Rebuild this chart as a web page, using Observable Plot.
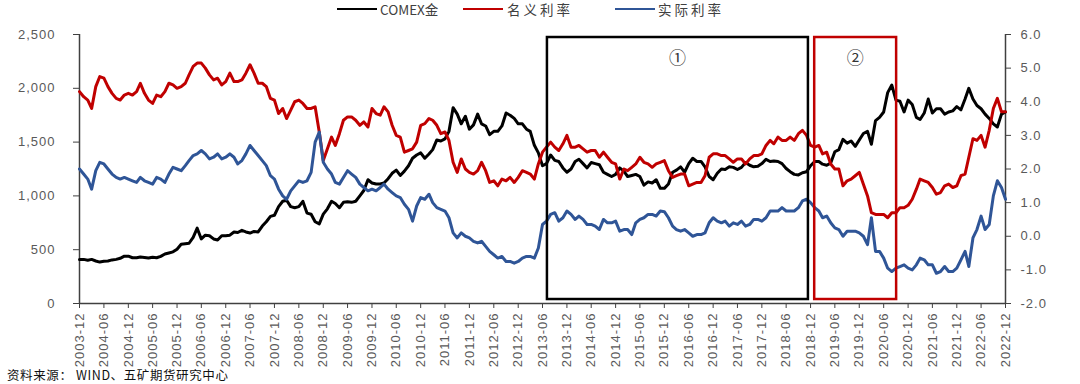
<!DOCTYPE html>
<html>
<head>
<meta charset="utf-8">
<script src="https://cdn.jsdelivr.net/npm/d3@7"></script>
<script src="https://cdn.jsdelivr.net/npm/@observablehq/plot@0.6"></script>
<style>
  body { margin: 0; background: #fff; }
  #wrap { position: relative; width: 1080px; height: 384px; overflow: hidden; background: #fff;
          font-family: "Noto Sans CJK SC", "Noto Sans", sans-serif; }
  #legend { position: relative; height: 20px; }
  #legend .ln { position: absolute; top: 8px; height: 2px; width: 40px; }
  #legend .tx { position: absolute; top: 0px; line-height: 18px; font-size: 13.5px; color: #404040; }
  #chart svg text { letter-spacing: 1px; }
  #caption { position: absolute; left: 7px; top: 366px; font-size: 12.5px; line-height: 18px;
             color: #111; letter-spacing: 0.6px; }
</style>
</head>
<body>
<div id="wrap">
  <div id="legend"></div>
  <div id="chart"></div>
  <div id="caption">资料来源： WIND、五矿期货研究中心</div>
</div>
<script>
// ---------------- data (monthly, from 2003-12 to 2022-12) ----------------
const startMonth = "2003-12";

// COMEX gold, USD/oz (left axis)
const gold = [
  410,
  410, 402, 410, 395, 385, 392, 395, 405, 410, 420, 440, 440,            // 2004
  425, 425, 432, 428, 422, 430, 425, 438, 460, 470, 480, 505,            // 2005
  550, 555, 560, 615, 700, 600, 635, 630, 600, 590, 630, 630,            // 2006
  635, 665, 660, 680, 665, 655, 670, 665, 720, 760, 810, 820,            // 2007
  900, 950, 960, 900, 890, 900, 950, 840, 830, 760, 740, 830,            // 2008
  880, 950, 930, 890, 940, 945, 940, 950, 1000, 1050, 1150, 1120,        // 2009
  1110, 1110, 1120, 1160, 1210, 1240, 1190, 1230, 1280, 1350, 1380, 1400, // 2010
  1350, 1390, 1430, 1520, 1510, 1530, 1600, 1820, 1760, 1670, 1740, 1620, // 2011
  1660, 1760, 1670, 1650, 1570, 1600, 1600, 1650, 1770, 1750, 1720, 1670, // 2012
  1670, 1620, 1600, 1470, 1400, 1280, 1300, 1380, 1330, 1320, 1260, 1220, // 2013
  1250, 1320, 1340, 1300, 1260, 1310, 1300, 1290, 1220, 1200, 1180, 1200, // 2014
  1260, 1230, 1180, 1190, 1200, 1180, 1100, 1130, 1120, 1150, 1070, 1070, // 2015
  1110, 1220, 1240, 1270, 1220, 1300, 1350, 1320, 1320, 1270, 1180, 1150, // 2016
  1210, 1250, 1245, 1270, 1265, 1245, 1265, 1310, 1285, 1270, 1275, 1300, // 2017
  1340, 1320, 1325, 1320, 1300, 1255, 1225, 1200, 1195, 1215, 1225, 1280, // 2018
  1320, 1320, 1295, 1285, 1305, 1410, 1430, 1525, 1490, 1510, 1460, 1520, // 2019
  1580, 1600, 1480, 1700, 1730, 1780, 1960, 2030, 1890, 1880, 1780, 1890, // 2020
  1850, 1730, 1710, 1770, 1900, 1770, 1810, 1810, 1760, 1780, 1790, 1830, // 2021
  1800, 1900, 2000, 1900, 1840, 1810, 1760, 1720, 1670, 1640, 1760, 1780  // 2022
];

// Nominal rate, % (right axis)
const nominal = [
  4.30,
  4.15, 4.05, 3.80, 4.45, 4.75, 4.70, 4.45, 4.25, 4.10, 4.05, 4.20, 4.25, // 2004
  4.20, 4.30, 4.55, 4.25, 4.05, 3.95, 4.20, 4.15, 4.30, 4.55, 4.50, 4.40, // 2005
  4.45, 4.55, 4.80, 5.05, 5.15, 5.15, 5.00, 4.80, 4.65, 4.70, 4.50, 4.60, // 2006
  4.85, 4.60, 4.60, 4.65, 4.85, 5.10, 4.85, 4.55, 4.55, 4.45, 4.10, 4.05, // 2007
  3.65, 3.80, 3.50, 3.75, 4.00, 4.05, 3.95, 3.80, 3.80, 3.85, 3.10, 2.25, // 2008
  2.60, 2.95, 2.70, 3.05, 3.45, 3.55, 3.55, 3.45, 3.30, 3.40, 3.25, 3.80, // 2009
  3.65, 3.60, 3.85, 3.70, 3.30, 3.00, 2.95, 2.50, 2.55, 2.60, 2.80, 3.30, // 2010
  3.35, 3.50, 3.45, 3.30, 3.05, 3.10, 2.85, 2.20, 1.90, 2.30, 2.00, 1.90, // 2011
  1.85, 1.95, 2.20, 1.95, 1.60, 1.65, 1.50, 1.70, 1.65, 1.75, 1.60, 1.75, // 2012
  1.95, 1.90, 1.85, 1.70, 2.15, 2.50, 2.65, 2.80, 2.65, 2.55, 2.75, 3.00, // 2013
  2.65, 2.65, 2.70, 2.60, 2.50, 2.55, 2.55, 2.35, 2.50, 2.35, 2.20, 2.15, // 2014
  1.70, 2.00, 1.95, 2.05, 2.15, 2.35, 2.20, 2.15, 2.05, 2.15, 2.20, 2.25, // 2015
  1.95, 1.75, 1.80, 1.85, 1.85, 1.50, 1.55, 1.60, 1.60, 1.80, 2.35, 2.45, // 2016
  2.45, 2.40, 2.40, 2.30, 2.20, 2.30, 2.30, 2.15, 2.30, 2.40, 2.40, 2.45, // 2017
  2.70, 2.85, 2.75, 2.95, 2.85, 2.85, 2.95, 2.85, 3.05, 3.15, 3.00, 2.70, // 2018
  2.65, 2.70, 2.45, 2.50, 2.15, 2.00, 2.00, 1.50, 1.65, 1.70, 1.80, 1.90, // 2019
  1.55, 1.20, 0.70, 0.65, 0.65, 0.65, 0.55, 0.70, 0.70, 0.85, 0.85, 0.92, // 2020
  1.10, 1.40, 1.70, 1.65, 1.60, 1.45, 1.25, 1.30, 1.50, 1.55, 1.45, 1.50, // 2021
  1.80, 1.85, 2.35, 2.90, 2.85, 3.00, 2.65, 3.15, 3.80, 4.10, 3.70, 3.70  // 2022
];

// Real rate, % (right axis)
const real = [
  2.00,
  1.85, 1.70, 1.40, 1.95, 2.20, 2.15, 2.00, 1.85, 1.75, 1.70, 1.75, 1.70, // 2004
  1.65, 1.60, 1.75, 1.65, 1.60, 1.55, 1.75, 1.70, 1.60, 1.85, 2.05, 2.00, // 2005
  1.95, 2.10, 2.25, 2.40, 2.45, 2.55, 2.45, 2.30, 2.35, 2.45, 2.30, 2.35, // 2006
  2.45, 2.35, 2.15, 2.25, 2.45, 2.70, 2.55, 2.40, 2.25, 2.10, 1.80, 1.70, // 2007
  1.40, 1.20, 1.10, 1.35, 1.50, 1.65, 1.60, 1.65, 1.90, 2.80, 3.10, 2.20, // 2008
  2.00, 1.85, 1.60, 1.55, 1.75, 1.95, 1.85, 1.75, 1.55, 1.45, 1.35, 1.40, // 2009
  1.35, 1.45, 1.55, 1.40, 1.30, 1.20, 1.15, 0.95, 0.80, 0.45, 0.90, 1.15, // 2010
  1.10, 1.25, 1.00, 0.85, 0.80, 0.75, 0.55, 0.10, -0.05, 0.10, 0.00, -0.05, // 2011
  -0.15, -0.20, -0.15, -0.30, -0.45, -0.55, -0.65, -0.60, -0.75, -0.75, -0.80, -0.75, // 2012
  -0.65, -0.60, -0.60, -0.65, -0.35, 0.35, 0.45, 0.65, 0.70, 0.45, 0.55, 0.75, // 2013
  0.65, 0.50, 0.60, 0.50, 0.35, 0.35, 0.30, 0.20, 0.50, 0.40, 0.40, 0.45, // 2014
  0.15, 0.20, 0.20, 0.05, 0.40, 0.50, 0.55, 0.65, 0.65, 0.60, 0.75, 0.73, // 2015
  0.55, 0.30, 0.20, 0.15, 0.20, 0.10, 0.00, 0.05, 0.05, 0.10, 0.40, 0.55, // 2016
  0.45, 0.40, 0.45, 0.30, 0.40, 0.35, 0.45, 0.30, 0.35, 0.50, 0.50, 0.45, // 2017
  0.55, 0.75, 0.75, 0.75, 0.85, 0.75, 0.75, 0.75, 0.85, 1.05, 1.10, 1.00, // 2018
  0.85, 0.75, 0.55, 0.60, 0.40, 0.25, 0.20, 0.00, 0.15, 0.15, 0.15, 0.10, // 2019
  0.00, -0.25, 0.55, -0.45, -0.45, -0.65, -0.95, -1.05, -0.95, -0.90, -0.85, -0.95, // 2020
  -1.00, -0.85, -0.65, -0.70, -0.85, -0.85, -1.10, -1.05, -0.90, -1.05, -1.05, -0.95, // 2021
  -0.70, -0.45, -0.90, -0.05, 0.20, 0.60, 0.20, 0.35, 1.20, 1.65, 1.45, 1.10  // 2022
];

const seriesNames = ["COMEX金", "名义利率", "实际利率"];
const seriesColors = ["#000000", "#C00000", "#2F5597"];

const xTickLabels = [
  "2003-12","2004-06","2004-12","2005-06","2005-12","2006-06","2006-12","2007-06","2007-12",
  "2008-06","2008-12","2009-06","2009-12","2010-06","2010-12","2011-06","2011-12","2012-06",
  "2012-12","2013-06","2013-12","2014-06","2014-12","2015-06","2015-12","2016-06","2016-12",
  "2017-06","2017-12","2018-06","2018-12","2019-06","2019-12","2020-06","2020-12","2021-06",
  "2021-12","2022-06","2022-12"
];
const goldTicks = [0, 500, 1000, 1500, 2000, 2500];
const rateTicks = [-2, -1, 0, 1, 2, 3, 4, 5, 6];

// highlighted periods
const boxLabels = ["①", "②"];
const boxStarts = ["2013-07-08", "2019-01-01"];
const boxEnds = ["2018-11-15", "2020-09-06"];
const boxColors = ["#000000", "#C00000"];

const caption = "资料来源： WIND、五矿期货研究中心";

// ---------------- build ----------------
const parseMonth = d3.utcParse("%Y-%m");
const parseDay = d3.utcParse("%Y-%m-%d");
const start = parseMonth(startMonth);
const dates = gold.map((_, i) => d3.utcMonth.offset(start, i));
const xTicks = xTickLabels.map(parseMonth);
const xDomain = [xTicks[0], xTicks[xTicks.length - 1]];

// map the right (rate) axis onto the left (gold) scale
const goldMax = 2500, rateMin = -2, rateMax = 6;
const k = goldMax / (rateMax - rateMin);
const toLeft = r => (r - rateMin) * k;
const toRate = g => g / k + rateMin;

const seriesValues = [gold, nominal.map(toLeft), real.map(toLeft)];
const rows = seriesValues.map((vals, s) => vals.map((v, i) => ({date: dates[i], v, s: seriesNames[s]})));

const boxes = boxLabels.map((label, i) => ({
  label, x1: parseDay(boxStarts[i]), x2: parseDay(boxEnds[i]), color: boxColors[i]
}));

const axisFont = "'Liberation Sans', Arial, sans-serif";

const chart = Plot.plot({
  width: 1080,
  height: 345,
  marginTop: 14,
  marginBottom: 62,
  marginLeft: 79,
  marginRight: 75,
  style: {fontFamily: axisFont, fontSize: "13px", color: "#595959", background: "#fff", overflow: "visible"},
  x: {type: "utc", domain: xDomain},
  y: {domain: [0, goldMax]},
  marks: [
    Plot.axisX({ticks: xTicks, tickFormat: d3.utcFormat("%Y-%m"), tickRotate: -90, tickSize: 5, tickPadding: 4,
                stroke: "#404040", fill: "#595959", label: null}),
    Plot.axisY({anchor: "left", ticks: goldTicks, tickFormat: d3.format(","), tickSize: 6, tickPadding: 18,
                stroke: "#404040", fill: "#595959", label: null}),
    Plot.axisY({anchor: "right", ticks: rateTicks.map(toLeft), tickFormat: g => toRate(g).toFixed(1),
                tickSize: 5, tickPadding: 10, stroke: "#404040", fill: "#595959", label: null}),
    Plot.ruleX([xDomain[0], xDomain[1]], {stroke: "#404040", strokeWidth: 1.5}),
    Plot.ruleY([0], {stroke: "#404040", strokeWidth: 1.5}),
    ...rows.map((r, s) => Plot.line(r, {x: "date", y: "v", stroke: seriesColors[s], strokeWidth: 3,
                                        strokeLinejoin: "round"})),
    Plot.rect(boxes, {x1: "x1", x2: "x2", y1: 37, y2: 2472, fill: "none", stroke: d => d.color,
                      strokeWidth: 2.5}),
    Plot.text(boxes, {x: d => new Date((+d.x1 + +d.x2) / 2), y: 2275, text: "label", fontSize: 17,
                      fill: "#333", fontFamily: "'Noto Sans CJK SC', sans-serif"})
  ]
});
document.getElementById("chart").appendChild(chart);

// legend
const legend = document.getElementById("legend");
const legendLineX = [337, 463, 615];
const legendTextX = [380, 507, 658];
const legendSpacing = ["0px", "3px", "3px"];
seriesNames.forEach((name, i) => {
  const ln = document.createElement("div");
  ln.className = "ln";
  ln.style.left = legendLineX[i] + "px";
  ln.style.background = seriesColors[i];
  legend.appendChild(ln);
  const tx = document.createElement("div");
  tx.className = "tx";
  tx.style.left = legendTextX[i] + "px";
  tx.style.letterSpacing = legendSpacing[i];
  tx.textContent = name;
  legend.appendChild(tx);
});
document.getElementById("caption").textContent = caption;
</script>
</body>
</html>
